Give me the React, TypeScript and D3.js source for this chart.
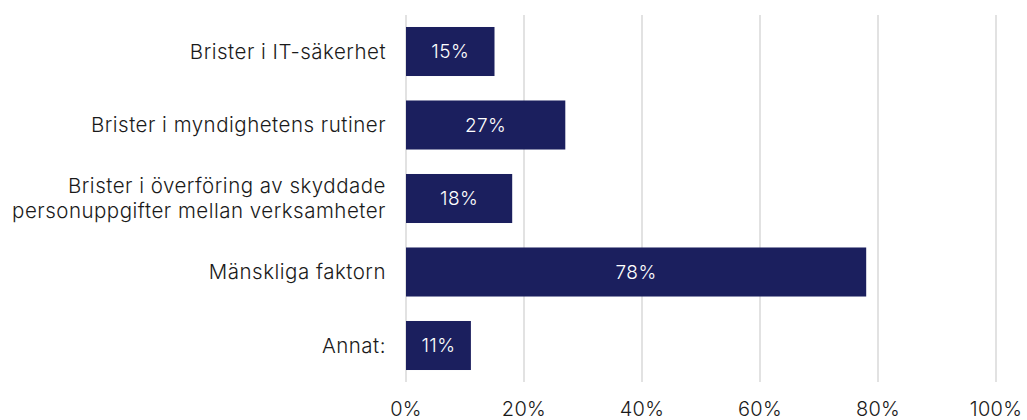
import React from "react";
import * as d3 from "d3";

const categories: string[][] = [
  ["Brister i IT-säkerhet"],
  ["Brister i myndighetens rutiner"],
  ["Brister i överföring av skyddade", "personuppgifter mellan verksamheter"],
  ["Mänskliga faktorn"],
  ["Annat:"],
];
const values = [15, 27, 18, 78, 11];
const ticks = [0, 20, 40, 60, 80, 100];

const W = 1027;
const H = 420;
const FONT = "Inter, 'Open Sans', sans-serif";

export default function App() {
  const x = d3.scaleLinear().domain([0, 100]).range([406, 996]);
  const y = d3
    .scaleBand<number>()
    .domain(values.map((_, i) => i))
    .range([14.75, 382.25])
    .paddingInner(0.333)
    .paddingOuter(0.1665);
  const bw = y.bandwidth();
  return (
    <svg
      width={W}
      height={H}
      style={{ position: "absolute", left: 0, top: 0, background: "#fff" }}
      fontFamily={FONT}
      fontWeight={300}
    >
      {ticks.map((t) => (
        <line
          key={"g" + t}
          x1={x(t)}
          x2={x(t)}
          y1={15}
          y2={382}
          stroke="#d9d9d9"
          strokeWidth={1.5}
        />
      ))}
      {values.map((v, i) => {
        const y0 = y(i)!;
        return (
          <g key={i}>
            <rect x={x(0)} y={y0} width={x(v) - x(0)} height={bw} fill="#1b1f5e" />
            <text
              x={(x(0) + x(v)) / 2}
              y={y0 + bw / 2}
              dy="0.35em"
              textAnchor="middle"
              fill="#fff"
              fontSize={19}
              letterSpacing={0.4}
            >
              {v}%
            </text>
          </g>
        );
      })}
      {categories.map((lines, i) => {
        const cy = y(i)! + bw / 2;
        const lh = 25;
        const start = cy - ((lines.length - 1) * lh) / 2;
        return (
          <text
            key={"c" + i}
            textAnchor="end"
            fill="#1a1a1a"
            fontSize={20.5}
            letterSpacing={0.5}
          >
            {lines.map((l, j) => (
              <tspan key={j} x={386} y={start + j * lh} dy="0.35em">
                {l}
              </tspan>
            ))}
          </text>
        );
      })}
      {ticks.map((t) => (
        <text
          key={"t" + t}
          x={x(t)}
          y={409}
          dy="0.35em"
          textAnchor="middle"
          fill="#1a1a1a"
          fontSize={20}
          letterSpacing={0.3}
        >
          {t}%
        </text>
      ))}
    </svg>
  );
}
